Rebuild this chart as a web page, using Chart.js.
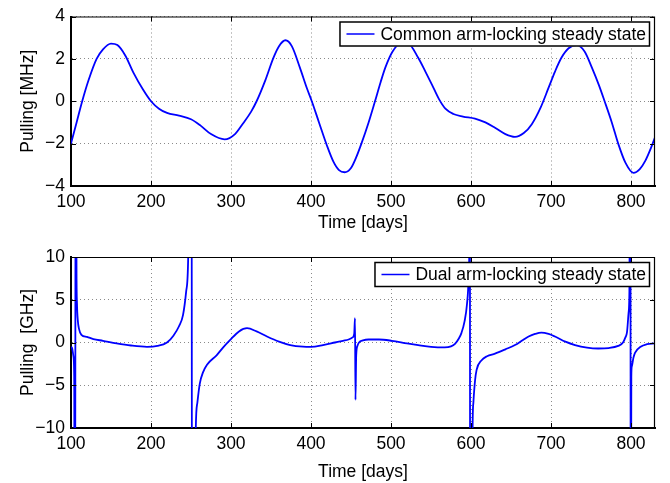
<!DOCTYPE html>
<html lang="en">
<head>
<meta charset="UTF-8" />
<title>Arm-locking pulling</title>
<script src="https://cdn.jsdelivr.net/npm/chart.js"></script>
<style>
  body { margin: 0; background: #fff; }
  canvas { display: block; }
</style>
</head>
<body>
<canvas id="common" width="670" height="240"></canvas>
<canvas id="dual" width="670" height="243"></canvas>
<script>
// shared x axis
const xTicks = [100, 200, 300, 400, 500, 600, 700, 800];
const xTitle = "Time [days]";

// top panel: common arm-locking, MHz
const commonLabel = "Common arm-locking steady state";
const commonYTitle = "Pulling [MHz]";
const commonYTicks = [-4, -2, 0, 2, 4];
const commonDays = [100, 107, 114, 122, 132, 140, 150, 158, 168, 178,
  190, 200, 210, 220, 235, 250, 262, 275, 292, 305,
  315, 325, 332, 343, 353, 360, 368, 376, 386, 395,
  401, 410, 420, 428, 435, 442, 450, 457, 463, 472,
  480, 487, 493, 502, 512, 522, 534, 543, 551, 560,
  568, 578, 590, 605, 618, 630, 643, 655, 666, 676,
  687, 697, 705, 713, 722, 732, 742, 751, 760, 767,
  776, 784, 793, 803, 811, 818, 825, 830];
const commonMHz = [-2.0, -1.0, 0.0, 1.0, 2.0, 2.45, 2.72, 2.65, 2.15, 1.35,
  0.55, 0.0, -0.35, -0.55, -0.68, -0.85, -1.15, -1.55, -1.8, -1.55,
  -1.05, -0.5, 0.0, 1.0, 2.05, 2.6, 2.88, 2.6, 1.6, 0.6,
  0.0, -1.0, -2.1, -2.85, -3.25, -3.35, -3.15, -2.6, -2.0, -1.0,
  0.0, 0.9, 1.6, 2.35, 2.72, 2.7, 2.05, 1.4, 0.8, 0.1,
  -0.35, -0.6, -0.72, -0.82, -1.0, -1.25, -1.55, -1.68, -1.5, -1.08,
  -0.3, 0.64, 1.4, 2.05, 2.5, 2.65, 2.35, 1.6, 0.75, 0.0,
  -1.0, -2.0, -2.9, -3.38, -3.2, -2.8, -2.2, -1.7];

// bottom panel: dual arm-locking, GHz (values beyond +/-10 run off the plot)
const dualLabel = "Dual arm-locking steady state";
const dualYTitle = "Pulling  [GHz]";
const dualYTicks = [-10, -5, 0, 5, 10];
const dualDays = [100, 101.5, 103, 104, 104.6, 105.2, 105.7, 106.3, 106.9, 107.5,
  108.5, 110, 113, 120, 128, 140, 157, 175, 195, 208,
  220, 228, 235, 240, 244, 246.5, 248, 250.8, 251.2, 254.5,
  256, 258, 261, 265, 270, 282, 290, 299, 310, 320,
  332, 345, 360, 374, 390, 400, 415, 430, 440, 447,
  452, 454, 455, 455.6, 456.5, 458, 460, 465, 472, 485,
  501, 520, 534, 550, 567, 575, 580, 585, 588, 592,
  595, 597, 598, 598.6, 598.9, 601.3, 602, 603, 605, 607,
  613, 620, 630, 643, 655, 665, 672, 680, 688, 697,
  705, 718, 730, 745, 759, 772, 784, 790, 793, 795,
  797, 798, 798.8, 799.3, 799.6, 800.0, 800.4, 801, 803, 805,
  812, 820, 830];
const dualGHz = [-0.5, -0.7, -1.6, -4, -25, -25, 25, 25, 8, 4.5,
  2.6, 1.6, 0.9, 0.65, 0.4, 0.2, -0.1, -0.35, -0.5, -0.4,
  0.0, 0.8, 1.9, 3.2, 6, 10, 25, 25, -25, -25,
  -10, -7, -4.8, -3.5, -2.6, -1.5, -0.6, 0.3, 1.3, 1.67,
  1.3, 0.7, 0.1, -0.3, -0.48, -0.5, -0.3, 0.0, 0.2, 0.35,
  0.6, 1.0, 2.84, -6.7, -1.5, -0.4, 0.0, 0.25, 0.35, 0.35,
  0.2, -0.1, -0.3, -0.5, -0.57, -0.45, -0.15, 0.5, 1.1, 2.5,
  4.5, 7.5, 12, 25, -25, -25, -10, -7, -4.5, -3.2,
  -2.1, -1.6, -1.3, -0.8, -0.3, 0.3, 0.7, 1.0, 1.16, 1.0,
  0.7, 0.1, -0.3, -0.6, -0.7, -0.65, -0.4, 0.0, 0.6, 1.2,
  3.5, 6, 25, 25, -25, -25, -4, -2.8, -1.8, -1.2,
  -0.5, -0.2, -0.1];

const FONT = { family: "Helvetica, Arial, 'Liberation Sans', sans-serif", size: 17.5 };
const BLUE = "#0000ff";

function fmt(v) {
  return v < 0 ? "\u2212" + Math.abs(v) : String(v);
}

// matlab style frame: thin top/right edges, inward ticks on all sides, boxed legend
function framePlugin(legendText) {
  return {
    id: "frame",
    afterDraw(chart) {
      const ctx = chart.ctx;
      const a = chart.chartArea;
      const xs = chart.scales.x, ys = chart.scales.y;
      ctx.save();
      ctx.strokeStyle = "#000";
      ctx.lineWidth = 1.2;
      ctx.beginPath();
      ctx.moveTo(a.left, a.top + 0.5);
      ctx.lineTo(a.right - 0.5, a.top + 0.5);
      ctx.lineTo(a.right - 0.5, a.bottom);
      ctx.stroke();

      const len = 5;
      ctx.lineWidth = 1;
      ctx.beginPath();
      xs.ticks.forEach(t => {
        const px = Math.round(xs.getPixelForValue(t.value)) + 0.5;
        ctx.moveTo(px, a.bottom); ctx.lineTo(px, a.bottom - len);
        ctx.moveTo(px, a.top); ctx.lineTo(px, a.top + len);
      });
      ys.ticks.forEach(t => {
        const py = Math.round(ys.getPixelForValue(t.value)) + 0.5;
        ctx.moveTo(a.left, py); ctx.lineTo(a.left + len, py);
        ctx.moveTo(a.right, py); ctx.lineTo(a.right - len, py);
      });
      ctx.stroke();

      // legend box
      ctx.font = FONT.size + "px " + FONT.family;
      const tw = ctx.measureText(legendText).width;
      const h = 25;
      const right = a.right - 5;
      const top = a.top + 5;
      const left = right - (tw + 45);
      ctx.fillStyle = "#fff";
      ctx.fillRect(left, top, right - left, h);
      ctx.lineWidth = 1.5;
      ctx.strokeRect(left + 0.5, top + 0.5, right - left - 1, h - 1);
      ctx.strokeStyle = BLUE;
      ctx.lineWidth = 1.5;
      ctx.beginPath();
      ctx.moveTo(left + 7, top + h / 2);
      ctx.lineTo(left + 35, top + h / 2);
      ctx.stroke();
      ctx.fillStyle = "#000";
      ctx.textBaseline = "middle";
      ctx.textAlign = "left";
      ctx.fillText(legendText, left + 41, top + h / 2 + 1);
      ctx.restore();
    }
  };
}

function makeChart(id, days, values, yTicks, yTitle, legendText, padTop, xAxisHeight, xTitlePad) {
  const pts = days.map((d, i) => ({ x: d, y: values[i] }));
  return new Chart(document.getElementById(id), {
    type: "line",
    data: {
      datasets: [{
        label: legendText,
        data: pts,
        borderColor: BLUE,
        borderWidth: 1.8,
        pointRadius: 0,
        fill: false,
        cubicInterpolationMode: "monotone",
      }],
    },
    options: {
      responsive: false,
      animation: false,
      devicePixelRatio: 1,
      layout: { padding: { top: padTop, right: 15, left: 0, bottom: 0 } },
      elements: { line: { capBezierPoints: false } },
      plugins: { legend: { display: false }, tooltip: { enabled: false } },
      scales: {
        x: {
          type: "linear",
          min: 100,
          max: 830,
          afterBuildTicks: s => { s.ticks = xTicks.map(v => ({ value: v })); },
          afterFit: s => { s.height = xAxisHeight; },
          grid: { color: "#8a8a8a", lineWidth: 1, drawTicks: false },
          border: { display: true, color: "#000", width: 2, dash: [1, 3] },
          ticks: { font: FONT, color: "#000", padding: 6, maxRotation: 0, autoSkip: false, callback: v => fmt(v) },
          title: { display: true, text: xTitle, font: FONT, color: "#000", padding: { top: 0, bottom: xTitlePad } },
        },
        y: {
          min: yTicks[0],
          max: yTicks[yTicks.length - 1],
          afterBuildTicks: s => { s.ticks = yTicks.map(v => ({ value: v })); },
          afterFit: s => { s.width = 71; },
          grid: { color: "#8a8a8a", lineWidth: 1, drawTicks: false },
          border: { display: true, color: "#000", width: 2, dash: [1, 3] },
          ticks: { font: FONT, color: "#000", padding: 6, callback: v => fmt(v) },
          title: { display: true, text: yTitle, font: FONT, color: "#000", padding: { top: 18, bottom: 0 } },
        },
      },
    },
    plugins: [framePlugin(legendText)],
  });
}

makeChart("common", commonDays, commonMHz, commonYTicks, commonYTitle, commonLabel, 15, 54, 6);
makeChart("dual", dualDays, dualGHz, dualYTicks, dualYTitle, dualLabel, 17, 55, 0);
</script>
</body>
</html>
